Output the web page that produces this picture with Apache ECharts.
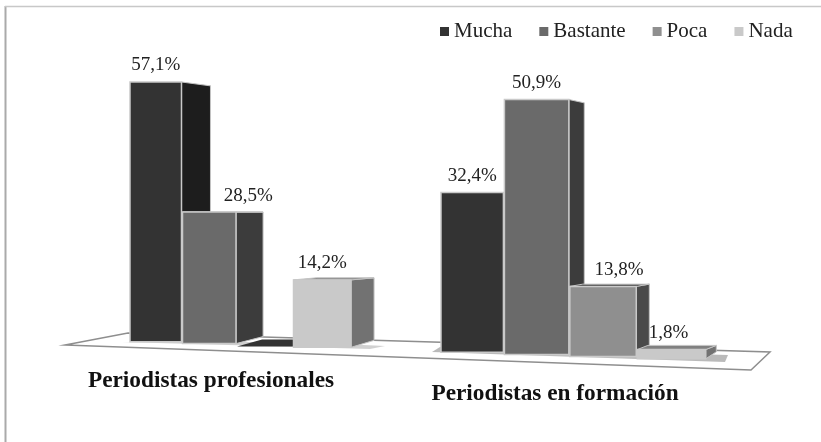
<!DOCTYPE html>
<html><head><meta charset="utf-8">
<style>html,body{margin:0;padding:0;background:#fff}#c{width:821px;height:442px}</style>
<script src="https://cdn.jsdelivr.net/npm/echarts@6/dist/echarts.min.js"></script>
</head><body><div id="c"></div>
<script>
const categories = ['Periodistas profesionales', 'Periodistas en formación'];
const mucha = [57.1, 32.4];
const bastante = [28.5, 50.9];
const poca = [0, 13.8];
const nada = [14.2, 1.8];
const seriesNames = ['Mucha', 'Bastante', 'Poca', 'Nada'];

const serif = '"Liberation Serif", serif';
const front = ['#333333', '#6a6a6a', '#8f8f8f', '#c9c9c9'];
const side = ['#1d1d1d', '#3c3c3c', '#4a4a4a', '#727272'];
const topFace = ['#2a2a2a', '#4a4a4a', '#333333', '#808080'];
const labelShift = {'1,0': 39, '2,1': 16, '3,1': -3};

function edgeX(u) { return 130 + 51.5 * u + u * u; }
function slotU(cat, slot) { return cat * 5.46 + slot; }

function renderBar(sIdx) {
  return function (params, api) {
    const cat = api.value(0), v = api.value(1);
    const anchor = api.coord([cat, 0]);
    const u = slotU(cat, sIdx);
    const off = anchor[0] - (cat === 0 ? 237 : 568);
    const x0 = edgeX(u) + off, x1 = edgeX(u + 1) + off - 1;
    const cx = (x0 + x1) / 2;
    const perUnit = api.size([0, 1])[1];
    const scale = (4.55 + 0.0012 * (cx - 155)) / perUnit;
    const base = anchor[1] - 9 + 0.033 * (cx - 130);
    const h = perUnit * scale * v;
    const yTop = base - h;
    const d = 29 - 0.035 * (x1 - 181);
    const backTop = yTop + (211 - yTop) * 0.03;
    const backBase = base - 7;
    const kids = [];
    if (h > 0) {
      kids.push({type: 'polygon', shape: {points: [[x1, yTop], [x1 + d, backTop], [x1 + d, backBase], [x1, base]]},
        style: {fill: side[sIdx], stroke: '#c4c4c4', lineWidth: 1}});
    }
    if (backTop < yTop) {
      kids.push({type: 'polygon', shape: {points: [[x0, yTop + (h > 0 ? 0 : 1)], [x1, yTop + (h > 0 ? 0 : 1)], [x1 + d, backTop - (h > 0 ? 0 : 2)], [x0 + d, backTop - (h > 0 ? 0 : 2)]]},
        style: h > 0 ? {fill: topFace[sIdx], stroke: '#c4c4c4', lineWidth: 1} : {fill: topFace[sIdx]}});
    }
    if (h > 0) {
      kids.push({type: 'rect', shape: {x: x0, y: yTop, width: x1 - x0, height: h},
        style: {fill: front[sIdx], stroke: '#c9c9c9', lineWidth: 1.5}});
    }
    if (v > 0) {
      const shift = labelShift[sIdx + ',' + cat] || 0;
      kids.push({type: 'text', style: {
        text: v.toFixed(1).replace('.', ',') + '%',
        x: cx + shift, y: yTop - 16.5, align: 'center', verticalAlign: 'middle',
        font: '19px ' + serif, fill: '#222'}});
    }
    return {type: 'group', children: kids};
  };
}

const values = [mucha, bastante, poca, nada];
const chart = echarts.init(document.getElementById('c'), null, {renderer: 'canvas'});
chart.setOption({
  animation: false,
  backgroundColor: '#fff',
  textStyle: {fontFamily: serif},
  grid: {left: 71.5, right: 87.5, top: 62, bottom: 92},
  legend: {
    left: 435, top: 16, icon: 'rect', itemWidth: 9, itemHeight: 9, itemGap: 27,
    textStyle: {fontFamily: serif, fontSize: 21, color: '#222', padding: [0, 0, 0, 0]},
    data: seriesNames
  },
  xAxis: {
    type: 'category',
    data: categories.map((c, i) => ({value: c, textStyle: {padding: i === 0 ? [0, 52, 0, 0] : [13, 26, 0, 0]}})),
    axisLine: {show: false}, axisTick: {show: false},
    axisLabel: {margin: 19, fontFamily: serif, fontWeight: 'bold', fontSize: 23.3, color: '#111', interval: 0}
  },
  yAxis: {type: 'value', min: 0, max: 60, show: false, splitLine: {show: false}},
  graphic: [
    {type: 'line', silent: true, z: -2, shape: {x1: 5.5, y1: 6, x2: 5.5, y2: 442},
      style: {stroke: '#aaaaaa', lineWidth: 2}},
    {type: 'line', silent: true, z: -2, shape: {x1: 5, y1: 6.5, x2: 821, y2: 6.5},
      style: {stroke: '#c8c8c8', lineWidth: 1.5}},
    {type: 'polygon', silent: true, z: -1, shape: {points: [[65, 345], [128, 333], [770, 352], [751, 370]]},
      style: {fill: '#fff', stroke: '#8e8e8e', lineWidth: 1.5}},
    {type: 'polygon', silent: true, z: -1, shape: {points: [[122, 342], [370, 349], [385, 346], [300, 342]]},
      style: {fill: '#999', stroke: 'none', opacity: 0.45}},
    {type: 'polygon', silent: true, z: -1, shape: {points: [[432, 352], [725, 362], [728, 355], [440, 347]]},
      style: {fill: '#666', stroke: 'none', opacity: 0.45}}
  ],
  series: seriesNames.map((name, i) => ({
    name, type: 'custom', z: 2 + i,
    itemStyle: {color: front[i]},
    renderItem: renderBar(i),
    encode: {x: 0, y: 1},
    data: categories.map((c, k) => [k, values[i][k]])
  }))
});
</script></body></html>
